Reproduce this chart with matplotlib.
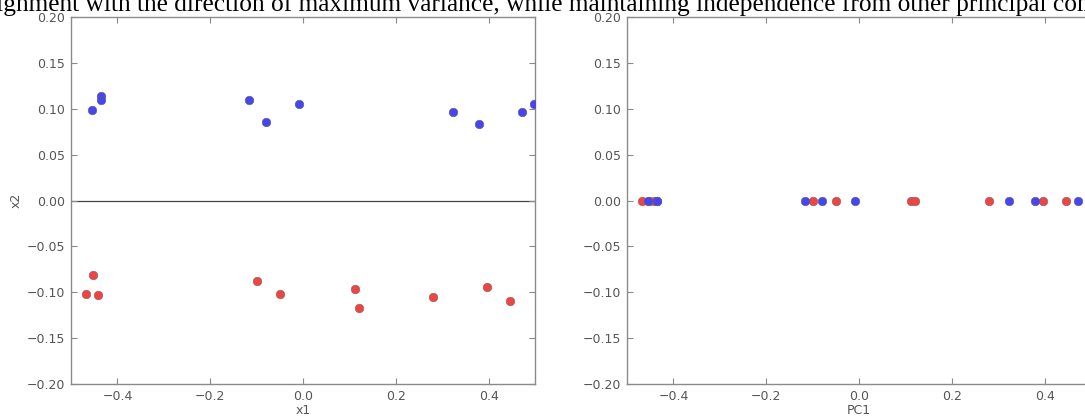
import matplotlib
matplotlib.use("Agg")
import matplotlib.pyplot as plt
import numpy as np

# Data
blue_x1 = [-0.454, -0.435, -0.435, -0.116, -0.079, -0.008, 0.324, 0.379, 0.472, 0.497]
blue_x2 = [0.099, 0.114, 0.109, 0.110, 0.086, 0.105, 0.096, 0.083, 0.096, 0.105]
red_x1 = [-0.468, -0.453, -0.441, -0.099, -0.050, 0.113, 0.121, 0.281, 0.397, 0.446]
red_x2 = [-0.102, -0.081, -0.103, -0.088, -0.102, -0.096, -0.117, -0.105, -0.094, -0.109]
x_ticks = [-0.4, -0.2, 0.0, 0.2, 0.4]
y_ticks = [-0.20, -0.15, -0.10, -0.05, 0.00, 0.05, 0.10, 0.15, 0.20]
title_text = ("alignment with the direction of maximum variance, while maintaining "
              "independence from other principal components.")

BLUE = "#4646ec"
RED = "#ea4646"
SPINE = "#8a8a8a"
TXT = "#555555"

W, H = 1085, 420
fig = plt.figure(figsize=(W / 100, H / 100), dpi=100)

def style(ax):
    ax.set_xlim(-0.5, 0.5)
    ax.set_ylim(-0.2, 0.2)
    ax.set_xticks(x_ticks)
    ax.set_yticks(y_ticks)
    ax.set_xticklabels([f"{v:.1f}".replace("-", "\u2212") for v in x_ticks])
    ax.set_yticklabels([f"{v:.2f}".replace("-", "\u2212") for v in y_ticks])
    ax.tick_params(direction="in", length=4, width=0.8, colors=SPINE,
                   labelcolor=TXT, labelsize=9, top=True, right=True, pad=4)
    for s in ax.spines.values():
        s.set_color(SPINE)
        s.set_linewidth(1.0)

ax1 = fig.add_axes([71 / W, 36 / H, 464 / W, 367 / H])
ax1.axhline(0, color="#444444", linewidth=0.9, zorder=1)
ax1.scatter(blue_x1, blue_x2, s=38, color=BLUE, edgecolors="#5a5a9a",
            linewidths=0.4, zorder=3)
ax1.scatter(red_x1, red_x2, s=38, color=RED, edgecolors="#9a5a5a",
            linewidths=0.4, zorder=3)
style(ax1)
ax1.set_xlabel("x1", color=TXT, fontsize=9, labelpad=1)
ax1.set_ylabel("x2", color=TXT, fontsize=9, labelpad=3)

ax2 = fig.add_axes([627 / W, 36 / H, 464 / W, 367 / H])
ax2.scatter(red_x1, np.zeros(len(red_x1)), s=38, color=RED, edgecolors="#9a5a5a",
            linewidths=0.4, zorder=3)
ax2.scatter(blue_x1, np.zeros(len(blue_x1)), s=38, color=BLUE, edgecolors="#5a5a9a",
            linewidths=0.4, zorder=3)
style(ax2)
ax2.set_xlabel("PC1", color=TXT, fontsize=9, labelpad=1)

fig.text(-22 / W, 1 - 11 / H, title_text, family="Liberation Serif",
         fontsize=18.3, color="black", ha="left", va="baseline")

fig.savefig("out.png", dpi=100)
